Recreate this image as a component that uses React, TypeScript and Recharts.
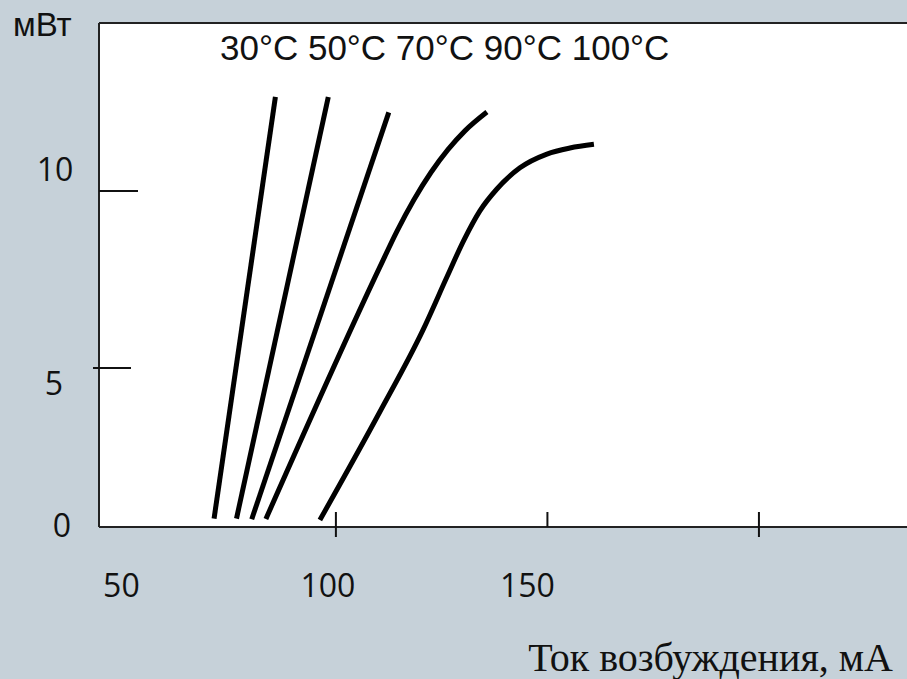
import React from 'react';
import {
  LineChart,
  Line,
  XAxis,
  YAxis,
  CartesianGrid,
  ReferenceLine,
  Customized,
} from 'recharts';

// ---- data ----
const temperatureLabels = ['30°C', '50°C', '70°C', '90°C', '100°C'];

const xTicks = [50, 100, 150, 200];
const xTickLabels = ['50', '100', '150', ''];
const yTicks = [0, 5, 10];
const yTickLabels = ['0', '5', '10'];

const curve30 = [
  { x: 71.2, y: 0.25 },
  { x: 85.7, y: 12.8 },
];
const curve50 = [
  { x: 76.5, y: 0.25 },
  { x: 98.2, y: 12.8 },
];
const curve70 = [
  { x: 80.1, y: 0.23 },
  { x: 112.5, y: 12.34 },
];
const curve90 = [
  { x: 83.45, y: 0.24 },
  { x: 110.4, y: 7.74 },
  { x: 114.42, y: 8.8 },
  { x: 118.44, y: 9.74 },
  { x: 122.46, y: 10.55 },
  { x: 126.48, y: 11.23 },
  { x: 130.5, y: 11.79 },
  { x: 135.7, y: 12.35 },
];
const curve100 = [
  { x: 96.22, y: 0.21 },
  { x: 110.4, y: 3.43 },
  { x: 120.57, y: 5.86 },
  { x: 126.24, y: 7.44 },
  { x: 130.26, y: 8.54 },
  { x: 134.04, y: 9.41 },
  { x: 138.06, y: 10.06 },
  { x: 143.5, y: 10.69 },
  { x: 149.88, y: 11.1 },
  { x: 155.32, y: 11.28 },
  { x: 160.99, y: 11.39 },
];

const curves = [curve30, curve50, curve70, curve90, curve100];

const xDomain: [number, number] = [44, 235];
const yDomain: [number, number] = [0, 15];

// ---- styles ----
const BG = '#c6d1d9';
const INK = '#111';
const TICK_FONT = '"Open Sans", Lato, sans-serif';
const TICK_SIZE = 32;

// tick-mark / label placement styles (hand-placed look of the original)
const xTickStyle: Record<number, { up: number; down: number; dx: number }> = {
  50: { up: 0, down: 0, dx: -3 },
  100: { up: 15, down: 10, dx: -8 },
  150: { up: 15, down: 0, dx: -20 },
  200: { up: 15, down: 10, dx: 0 },
};
const yTickStyle: Record<number, { left: number; right: number; lineDy: number; dx: number; dy: number }> = {
  0: { left: 0, right: 0, lineDy: 0, dx: -37, dy: 10 },
  5: { left: 6, right: 32, lineDy: 9, dx: -45, dy: 36 },
  10: { left: 0, right: 39, lineDy: 0, dx: -44, dy: -10 },
};

const XTick = (props: any) => {
  const { x, y, payload, index } = props;
  const v = payload.value as number;
  const s = xTickStyle[v] || { up: 0, down: 0, dx: 0 };
  const label = xTickLabels[index];
  return (
    <g>
      {s.up + s.down > 0 && (
        <line x1={x} x2={x} y1={y - s.up} y2={y + s.down} stroke={INK} strokeWidth={2} />
      )}
      {label && (
        <text
          x={x + s.dx}
          y={y + 70}
          textAnchor="middle"
          fontFamily={TICK_FONT}
          fontSize={TICK_SIZE}
          fill={INK}
        >
          {label}
        </text>
      )}
    </g>
  );
};

const YTick = (props: any) => {
  const { x, y, payload, index } = props;
  const v = payload.value as number;
  const s = yTickStyle[v] || { left: 0, right: 0, lineDy: 0, dx: 0, dy: 0 };
  const label = yTickLabels[index];
  return (
    <g>
      {s.left + s.right > 0 && (
        <line
          x1={x - s.left}
          x2={x + s.right}
          y1={y + s.lineDy}
          y2={y + s.lineDy}
          stroke={INK}
          strokeWidth={2}
        />
      )}
      <text
        x={x + s.dx}
        y={y + s.dy}
        textAnchor="middle"
        fontFamily={TICK_FONT}
        fontSize={TICK_SIZE}
        fill={INK}
      >
        {label}
      </text>
    </g>
  );
};

const Annotations = () => (
  <g>
    <text
      x={13}
      y={36}
      fontFamily='"Liberation Sans", Arial, sans-serif'
      fontSize={33}
      fill={INK}
    >
      мВт
    </text>
    <text
      x={220}
      y={60}
      fontFamily='"Liberation Sans", Arial, sans-serif'
      fontSize={35}
      fill={INK}
    >
      {temperatureLabels.join(' ')}
    </text>
    <text
      x={893}
      y={671}
      textAnchor="end"
      fontFamily='"Liberation Serif", "DejaVu Serif", serif'
      fontSize={40}
      fill={INK}
    >
      Ток возбуждения, мА
    </text>
  </g>
);

export default function App() {
  return (
    <div
      style={{
        position: 'fixed',
        left: 0,
        top: 0,
        width: 907,
        height: 679,
        background: BG,
        overflow: 'hidden',
      }}
    >
      <LineChart
        width={907}
        height={679}
        margin={{ top: 23, right: 0, left: 0, bottom: 0 }}
      >
        <CartesianGrid fill="#ffffff" horizontal={false} vertical={false} stroke="none" />
        <XAxis
          type="number"
          dataKey="x"
          domain={xDomain}
          ticks={xTicks}
          allowDataOverflow
          height={152}
          tickSize={0}
          tickMargin={0}
          tickLine={false}
          axisLine={{ stroke: '#222', strokeWidth: 2 }}
          tick={<XTick />}
          interval={0}
        />
        <YAxis
          type="number"
          dataKey="y"
          domain={yDomain}
          ticks={yTicks}
          allowDataOverflow
          width={99}
          tickSize={0}
          tickMargin={0}
          tickLine={false}
          axisLine={{ stroke: '#222', strokeWidth: 2 }}
          tick={<YTick />}
          interval={0}
        />
        <ReferenceLine y={15} stroke="#222" strokeWidth={2} ifOverflow="visible" />
        {curves.map((c, i) => (
          <Line
            key={temperatureLabels[i]}
            data={c}
            dataKey="y"
            type="monotone"
            stroke="#000"
            strokeWidth={5}
            dot={false}
            activeDot={false}
            isAnimationActive={false}
          />
        ))}
        <Customized component={<Annotations />} />
      </LineChart>
    </div>
  );
}
